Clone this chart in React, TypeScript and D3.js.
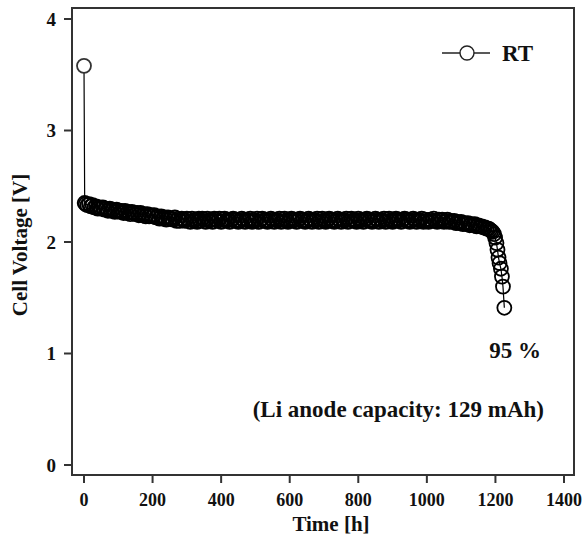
import React from "react";
import * as d3 from "d3";

const timeH: number[] = [
  0, 2,
  5, 10, 15, 20, 25, 30, 35, 40, 45, 50,
  55, 60, 65, 70, 75, 80, 85, 90, 95, 100,
  105, 110, 115, 120, 125, 130, 135, 140, 145, 150,
  155, 160, 165, 170, 175, 180, 185, 190, 195, 200,
  205, 210, 215, 220, 225, 230, 235, 240, 245, 250,
  255, 260, 265, 270, 275, 280, 285, 290, 295, 300,
  305, 310, 315, 320, 325, 330, 335, 340, 345, 350,
  355, 360, 365, 370, 375, 380, 385, 390, 395, 400,
  405, 410, 415, 420, 425, 430, 435, 440, 445, 450,
  455, 460, 465, 470, 475, 480, 485, 490, 495, 500,
  505, 510, 515, 520, 525, 530, 535, 540, 545, 550,
  555, 560, 565, 570, 575, 580, 585, 590, 595, 600,
  605, 610, 615, 620, 625, 630, 635, 640, 645, 650,
  655, 660, 665, 670, 675, 680, 685, 690, 695, 700,
  705, 710, 715, 720, 725, 730, 735, 740, 745, 750,
  755, 760, 765, 770, 775, 780, 785, 790, 795, 800,
  805, 810, 815, 820, 825, 830, 835, 840, 845, 850,
  855, 860, 865, 870, 875, 880, 885, 890, 895, 900,
  905, 910, 915, 920, 925, 930, 935, 940, 945, 950,
  955, 960, 965, 970, 975, 980, 985, 990, 995, 1000,
  1005, 1010, 1015, 1020, 1025, 1030, 1035, 1040, 1045, 1050,
  1055, 1060, 1065, 1070, 1075, 1080, 1085, 1090, 1095, 1100,
  1105, 1110, 1115, 1120, 1125, 1130, 1135, 1140, 1145, 1150,
  1155, 1160, 1165, 1170, 1175, 1180, 1184, 1188, 1192, 1196,
  1199, 1203, 1206, 1209, 1212, 1216, 1219, 1222, 1226,
];

const voltageV: number[] = [
  3.58, 2.35,
  2.34, 2.33, 2.34, 2.32, 2.33, 2.31, 2.32, 2.30, 2.31, 2.30,
  2.31, 2.29, 2.30, 2.28, 2.30, 2.28, 2.29, 2.27, 2.29, 2.28,
  2.27, 2.28, 2.26, 2.28, 2.26, 2.27, 2.25, 2.27, 2.26, 2.25,
  2.26, 2.24, 2.26, 2.24, 2.25, 2.23, 2.25, 2.23, 2.24, 2.23,
  2.24, 2.22, 2.23, 2.21, 2.23, 2.21, 2.22, 2.20, 2.22, 2.21,
  2.21, 2.20, 2.22, 2.19, 2.21, 2.19, 2.21, 2.20, 2.19, 2.21,
  2.20, 2.18, 2.21, 2.19, 2.20, 2.18, 2.21, 2.19, 2.21, 2.20,
  2.18, 2.21, 2.19, 2.20, 2.18, 2.21, 2.20, 2.19, 2.21, 2.18,
  2.20, 2.21, 2.19, 2.20, 2.18, 2.20, 2.21, 2.19, 2.20, 2.18,
  2.19, 2.21, 2.20, 2.18, 2.20, 2.19, 2.21, 2.18, 2.20, 2.19,
  2.21, 2.18, 2.20, 2.21, 2.19, 2.20, 2.18, 2.19, 2.21, 2.20,
  2.18, 2.20, 2.19, 2.21, 2.18, 2.20, 2.21, 2.19, 2.18, 2.20,
  2.21, 2.19, 2.20, 2.18, 2.20, 2.21, 2.19, 2.20, 2.18, 2.19,
  2.21, 2.20, 2.18, 2.20, 2.19, 2.21, 2.18, 2.20, 2.21, 2.19,
  2.18, 2.20, 2.21, 2.19, 2.20, 2.18, 2.19, 2.21, 2.20, 2.18,
  2.20, 2.19, 2.21, 2.18, 2.20, 2.21, 2.19, 2.20, 2.18, 2.21,
  2.19, 2.20, 2.18, 2.20, 2.21, 2.19, 2.20, 2.18, 2.19, 2.21,
  2.20, 2.18, 2.20, 2.19, 2.21, 2.18, 2.20, 2.21, 2.19, 2.18,
  2.20, 2.21, 2.19, 2.20, 2.18, 2.20, 2.21, 2.19, 2.20, 2.18,
  2.19, 2.21, 2.20, 2.18, 2.20, 2.19, 2.21, 2.18, 2.20, 2.19,
  2.18, 2.20, 2.19, 2.21, 2.19, 2.18, 2.20, 2.19, 2.20, 2.18,
  2.19, 2.20, 2.18, 2.19, 2.18, 2.19, 2.17, 2.18, 2.17, 2.18,
  2.16, 2.17, 2.16, 2.17, 2.15, 2.16, 2.15, 2.16, 2.14, 2.15,
  2.14, 2.14, 2.13, 2.13, 2.12, 2.12, 2.11, 2.10, 2.09, 2.07,
  2.04, 1.99, 1.93, 1.86, 1.81, 1.76, 1.69, 1.60, 1.41,
];

const xTicks: number[] = [0, 200, 400, 600, 800, 1000, 1200, 1400];
const yTicks: number[] = [0, 1, 2, 3, 4];

const seriesName = "RT";
const noteEfficiency = "95 %";
const noteCapacity = "(Li anode capacity: 129 mAh)";
const xTitle = "Time [h]";
const yTitle = "Cell Voltage [V]";

export default function App() {
  const W = 585;
  const H = 541;
  const frame = { left: 72, right: 574, top: 8, bottom: 475 };
  const x = d3.scaleLinear().domain([0, 1400]).range([84, 564]);
  const y = d3.scaleLinear().domain([0, 4]).range([465, 19]);
  const data = timeH.map((t, i) => ({ t, v: voltageV[i] }));
  const line = d3
    .line<{ t: number; v: number }>()
    .x((d) => x(d.t))
    .y((d) => y(d.v));
  const font = "'Liberation Serif', 'Times New Roman', serif";
  const ink = "#000";

  return (
    <svg
      width={W}
      height={H}
      style={{ position: "absolute", left: 0, top: 0, background: "#fff" }}
      fontFamily={font}
      fontWeight="bold"
    >
      <rect x={0} y={0} width={W} height={H} fill="#fff" />
      {/* data */}
      <path d={line(data) || ""} fill="none" stroke={ink} strokeWidth={1.2} />
      {data.map((d, i) => (
        <circle
          key={i}
          cx={x(d.t)}
          cy={y(d.v)}
          r={7}
          fill={i === 0 ? "#fff" : "none"}
          stroke={i === 0 ? "#333" : ink}
          strokeWidth={1.8}
        />
      ))}
      {/* frame */}
      <rect
        x={frame.left}
        y={frame.top}
        width={frame.right - frame.left}
        height={frame.bottom - frame.top}
        fill="none"
        stroke="#333"
        strokeWidth={2}
      />
      {/* y ticks */}
      {yTicks.map((v) => (
        <g key={"y" + v}>
          <line x1={64} x2={frame.left} y1={y(v)} y2={y(v)} stroke="#333" strokeWidth={2} />
          <text x={56} y={y(v)} dy="0.35em" textAnchor="end" fontSize={19} fill="#111">
            {v}
          </text>
        </g>
      ))}
      {/* x ticks */}
      {xTicks.map((t) => (
        <g key={"x" + t}>
          <line x1={x(t)} x2={x(t)} y1={frame.bottom} y2={frame.bottom + 8} stroke="#333" strokeWidth={2} />
          <text x={x(t)} y={506} textAnchor="middle" fontSize={18} fill="#111">
            {t}
          </text>
        </g>
      ))}
      <text x={331} y={531} textAnchor="middle" fontSize={21} fill="#111">
        {xTitle}
      </text>
      <text
        transform={`translate(27,245) rotate(-90)`}
        textAnchor="middle"
        fontSize={21}
        fill="#111"
      >
        {yTitle}
      </text>
      {/* legend */}
      <line x1={442} x2={490} y1={53} y2={53} stroke="#222" strokeWidth={1.5} />
      <circle cx={467} cy={53} r={7} fill="#fff" stroke="#222" strokeWidth={1.4} />
      <text x={502} y={61} fontSize={23} fill="#111">
        {seriesName}
      </text>
      {/* annotations */}
      <text x={541} y={358} textAnchor="end" fontSize={23} fill="#111">
        {noteEfficiency}
      </text>
      <text x={544} y={417} textAnchor="end" fontSize={23} fill="#111">
        {noteCapacity}
      </text>
    </svg>
  );
}
